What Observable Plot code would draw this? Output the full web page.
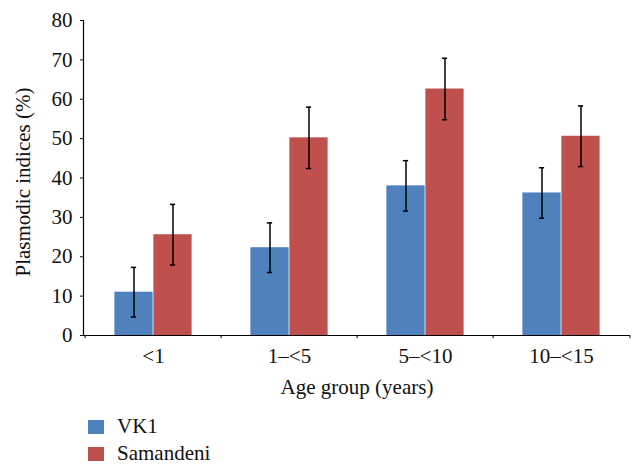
<!DOCTYPE html>
<html>
<head>
<meta charset="utf-8">
<script src="https://cdn.jsdelivr.net/npm/d3@7"></script>
<script src="https://cdn.jsdelivr.net/npm/@observablehq/plot@0.6"></script>
<style>
  body { margin: 0; background: #fff; font-family: "Liberation Serif", serif; }
  #chart { position: relative; width: 644px; height: 474px; overflow: hidden; }
  .legend { position: absolute; left: 88px; top: 413px; font-size: 21px; color: #111; font-family: "Liberation Serif", serif; }
  .legend .item { display: flex; align-items: center; height: 27px; }
  .legend .sw { width: 16px; height: 14px; margin-right: 13px; }
</style>
</head>
<body>
<div id="chart"></div>
<script>
const groups = ["<1", "1\u2013<5", "5\u2013<10", "10\u2013<15"];
const seriesNames = ["VK1", "Samandeni"];
const vk1 = [11.0, 22.3, 38.0, 36.2];
const vk1Err = [6.3, 6.3, 6.4, 6.4];
const samandeni = [25.6, 50.2, 62.6, 50.6];
const samandeniErr = [7.7, 7.8, 7.8, 7.7];
const colors = ["#4f81bd", "#c0504d"];
const yTicks = [0, 10, 20, 30, 40, 50, 60, 70, 80];

const W = 644, H = 400, mL = 83, mR = 14, mT = 20, mB = 65;
const bw = (W - mL - mR) / groups.length;
const barW = 39;
const outer = (bw - 2 * barW) / 2;

const rows = [];
groups.forEach((g, i) => {
  rows.push({group: g, series: seriesNames[0], value: vk1[i], err: vk1Err[i], k: 0});
  rows.push({group: g, series: seriesNames[1], value: samandeni[i], err: samandeniErr[i], k: 1});
});
const r0 = rows.filter(d => d.k === 0), r1 = rows.filter(d => d.k === 1);
const c0 = outer + barW / 2, c1 = outer + barW * 1.5;
const cap = 3;
const font = "Liberation Serif";

const chart = Plot.plot({
  width: W, height: H,
  marginLeft: mL, marginRight: mR, marginTop: mT, marginBottom: mB,
  style: {fontFamily: "'Liberation Serif', serif", fontSize: "21px", color: "#111", background: "#fff"},
  x: {domain: groups, padding: 0, label: null},
  y: {domain: [0, 80], label: null},
  marks: [
    Plot.barY(r0, {x: "group", y: "value", fill: colors[0], insetLeft: outer, insetRight: bw - outer - barW}),
    Plot.barY(r1, {x: "group", y: "value", fill: colors[1], insetLeft: outer + barW, insetRight: outer}),
    Plot.ruleX(r0, {x: "group", y1: d => d.value - d.err, y2: d => d.value + d.err, dx: c0 - bw / 2, stroke: "#000", strokeWidth: 1.5}),
    Plot.ruleX(r1, {x: "group", y1: d => d.value - d.err, y2: d => d.value + d.err, dx: c1 - bw / 2, stroke: "#000", strokeWidth: 1.5}),
    Plot.tickY(r0, {x: "group", y: d => d.value + d.err, insetLeft: c0 - cap, insetRight: bw - c0 - cap, stroke: "#000", strokeWidth: 1.5}),
    Plot.tickY(r0, {x: "group", y: d => d.value - d.err, insetLeft: c0 - cap, insetRight: bw - c0 - cap, stroke: "#000", strokeWidth: 1.5}),
    Plot.tickY(r1, {x: "group", y: d => d.value + d.err, insetLeft: c1 - cap, insetRight: bw - c1 - cap, stroke: "#000", strokeWidth: 1.5}),
    Plot.tickY(r1, {x: "group", y: d => d.value - d.err, insetLeft: c1 - cap, insetRight: bw - c1 - cap, stroke: "#000", strokeWidth: 1.5}),
    Plot.ruleY([0], {stroke: "#000", strokeWidth: 1.2}),
    Plot.frame({anchor: "left", stroke: "#000", strokeWidth: 1.2}),
    Plot.ruleX(groups, {x: d => d, y1: 0, y2: -0.8, dx: -bw / 2, stroke: "#000"}),
    Plot.ruleX(groups.slice(-1), {x: d => d, y1: 0, y2: -0.8, dx: bw / 2, stroke: "#000"}),
    Plot.axisY({ticks: yTicks, tickSize: 3, tickPadding: 8, tickFormat: d => String(d), label: null, fontSize: 21, fontFamily: font}),
    Plot.axisX({tickSize: 0, tickPadding: 13, label: null, fontSize: 21, fontFamily: font}),
    Plot.text(["Age group (years)"], {frameAnchor: "bottom", lineAnchor: "middle", textAnchor: "middle", dy: 52, fontSize: 21, fontFamily: font, fill: "#111"}),
    Plot.text(["Plasmodic indices (%)"], {frameAnchor: "left", lineAnchor: "middle", textAnchor: "middle", dx: -60, dy: 4, rotate: -90, fontSize: 21, fontFamily: font, fill: "#111"})
  ]
});
const root = document.getElementById("chart");
root.appendChild(chart);

const legend = document.createElement("div");
legend.className = "legend";
seriesNames.forEach((s, i) => {
  const item = document.createElement("div");
  item.className = "item";
  const sw = document.createElement("span");
  sw.className = "sw";
  sw.style.background = colors[i];
  const t = document.createElement("span");
  t.textContent = s;
  item.appendChild(sw);
  item.appendChild(t);
  legend.appendChild(item);
});
root.appendChild(legend);
</script>
</body>
</html>
